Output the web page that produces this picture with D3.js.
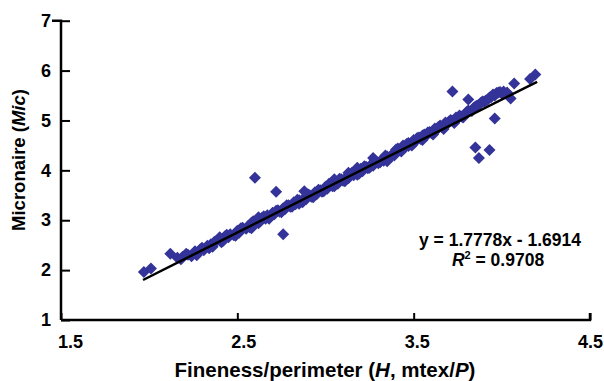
<!DOCTYPE html>
<html><head><meta charset="utf-8">
<script src="https://cdn.jsdelivr.net/npm/d3@7"></script>
<style>
html,body{margin:0;padding:0;background:#fff;}
svg{display:block;font-family:Arial,"Liberation Sans",sans-serif;}
</style></head>
<body><svg id="chart" width="604" height="381"></svg>
<script>
// Fineness/perimeter H (mtex/P)
const hValues = [
1.97,2.01,2.12,2.16,2.19,2.22,2.24,2.26,2.28,2.30,2.31,2.33,2.35,2.36,2.38,2.40,2.41,2.43,2.45,2.46,
2.48,2.50,2.51,2.53,2.55,2.56,2.58,2.60,2.61,2.63,2.64,2.66,2.67,2.69,2.70,2.71,2.73,2.74,2.76,2.77,
2.79,2.80,2.82,2.83,2.85,2.86,2.88,2.89,2.91,2.92,2.94,2.95,2.97,2.98,3.00,3.01,3.03,3.04,3.06,3.07,
3.09,3.10,3.12,3.13,3.14,3.16,3.17,3.19,3.20,3.21,3.23,3.24,3.26,3.27,3.29,3.30,3.32,3.33,3.35,3.36,
3.38,3.39,3.41,3.42,3.44,3.45,3.47,3.48,3.50,3.51,3.53,3.54,3.56,3.57,3.59,3.60,3.62,3.63,3.65,3.66,
3.68,3.69,3.71,3.72,3.74,3.75,3.77,3.79,3.80,3.84,3.86,3.88,3.90,3.92,3.94,3.95,3.97,3.99,4.01,4.03,
2.18,2.21,2.27,2.29,2.34,2.37,2.42,2.44,2.49,2.52,2.57,2.59,2.62,2.65,2.68,2.72,2.75,2.78,2.81,2.84,
2.87,2.90,2.93,2.96,2.99,3.02,3.05,3.08,3.11,3.15,3.18,3.22,3.25,3.28,3.31,3.34,3.37,3.40,3.43,3.46,
3.49,3.52,3.55,3.58,3.61,3.64,3.67,3.70,3.73,3.76,3.78,3.81,3.83,3.85,3.87,3.89,3.91,3.93,3.96,3.98,4.00,
2.40,2.58,2.85,3.05,3.13,3.27,3.35,3.55,2.62,3.18,3.47,
2.60,2.72,2.76,2.88,3.72,3.81,3.96,3.85,3.93,3.87,4.07,4.05,4.19,4.16
];
// Micronaire (Mic)
const micValues = [
1.96,2.03,2.33,2.25,2.27,2.31,2.28,2.38,2.37,2.45,2.40,2.49,2.52,2.47,2.58,2.60,2.56,2.68,2.66,2.72,
2.70,2.79,2.75,2.85,2.83,2.88,2.95,2.93,2.99,2.98,3.05,3.03,3.10,3.08,3.15,3.12,3.20,3.17,3.24,3.22,
3.30,3.27,3.36,3.32,3.40,3.37,3.45,3.42,3.50,3.47,3.56,3.52,3.60,3.57,3.67,3.63,3.72,3.68,3.77,3.73,
3.82,3.79,3.87,3.84,3.92,3.90,3.96,3.93,4.03,3.98,4.07,4.04,4.12,4.09,4.17,4.14,4.22,4.19,4.28,4.25,
4.33,4.30,4.44,4.41,4.50,4.46,4.55,4.52,4.61,4.58,4.66,4.63,4.72,4.69,4.77,4.75,4.84,4.81,4.90,4.87,
4.96,4.93,5.01,4.99,5.06,5.04,5.08,5.12,5.17,5.25,5.30,5.35,5.38,5.42,5.47,5.52,5.55,5.57,5.58,5.56,
2.22,2.33,2.30,2.42,2.44,2.57,2.59,2.71,2.69,2.84,2.86,2.98,2.94,3.08,3.03,3.19,3.16,3.30,3.27,3.41,
3.36,3.52,3.46,3.61,3.58,3.73,3.68,3.83,3.78,3.95,3.91,4.08,4.05,4.20,4.16,4.30,4.27,4.42,4.38,4.53,
4.50,4.65,4.61,4.76,4.72,4.87,4.83,4.98,4.95,5.10,5.06,5.20,5.19,5.28,5.31,5.38,5.40,5.46,5.50,5.56,5.54,
2.66,2.84,3.33,3.82,3.95,4.25,4.18,4.70,3.06,4.05,4.49,
3.85,3.57,2.72,3.58,5.58,5.42,5.04,4.46,4.41,4.25,5.74,5.44,5.92,5.83
];
const xTicks = [1.5, 2.5, 3.5, 4.5];
const yTicks = [1, 2, 3, 4, 5, 6, 7];
const slope = 1.7778, intercept = -1.6914;
const trendRange = [1.965, 4.20];
const equationText = "y = 1.7778x - 1.6914";
const r2Text = "0.9708";

const svg = d3.select("#chart");
const x = d3.scaleLinear().domain([1.5, 4.5]).range([61, 590]);
const y = d3.scaleLinear().domain([1, 7]).range([320, 20.7]);

// points
const pts = hValues.map((h, i) => ({h, m: micValues[i]}));
const diamond = d3.symbol().type(d3.symbolSquare).size(72);
svg.append("g").selectAll("path").data(pts).join("path")
  .attr("d", diamond)
  .attr("transform", d => `translate(${x(d.h)},${y(d.m)}) rotate(45)`)
  .attr("fill", "#333399");

// trendline
svg.append("line")
  .attr("x1", x(trendRange[0])).attr("y1", y(slope * trendRange[0] + intercept))
  .attr("x2", x(trendRange[1])).attr("y2", y(slope * trendRange[1] + intercept))
  .attr("stroke", "#000").attr("stroke-width", 2.5);

// axes
const xAxis = svg.append("g").attr("transform", "translate(0,320)")
  .call(d3.axisBottom(x).tickValues(xTicks).tickSize(-7).tickPadding(0).tickFormat(d3.format(".1f")));
xAxis.select(".domain").attr("d", `M${x(1.5)},0H${x(4.5)}V-7`).attr("stroke-width", 2.5);
xAxis.selectAll(".tick line").attr("stroke-width", 2);
xAxis.selectAll(".tick text")
  .attr("y", 28).attr("dy", 0)
  .attr("dx", d => 9 * (4.5 - d) / 3)
  .attr("font-size", 18).attr("font-weight", "bold").attr("fill", "#000")
  .attr("font-family", "Arial, 'Liberation Sans', sans-serif");

const yAxis = svg.append("g").attr("transform", "translate(61,0)")
  .call(d3.axisLeft(y).tickValues(yTicks).tickSize(-9).tickPadding(10).tickFormat(d3.format("d")));
yAxis.select(".domain").attr("d", `M-9,${y(7)}H0V${y(1)}`).attr("stroke-width", 2.5);
yAxis.selectAll(".tick line").attr("stroke-width", 2);
yAxis.selectAll(".tick text")
  .attr("font-size", 18).attr("font-weight", "bold").attr("fill", "#000")
  .attr("font-family", "Arial, 'Liberation Sans', sans-serif");

// axis titles
const xt = svg.append("text").attr("x", 325).attr("y", 377).attr("text-anchor", "middle")
  .attr("font-size", 20.5).attr("font-weight", "bold");
xt.append("tspan").text("Fineness/perimeter (");
xt.append("tspan").attr("font-style", "italic").text("H");
xt.append("tspan").text(", mtex/");
xt.append("tspan").attr("font-style", "italic").text("P");
xt.append("tspan").text(")");

const yt = svg.append("text").attr("transform", "translate(25,160) rotate(-90)").attr("text-anchor", "middle")
  .attr("font-size", 18.5).attr("font-weight", "bold");
yt.append("tspan").text("Micronaire (");
yt.append("tspan").attr("font-style", "italic").text("Mic");
yt.append("tspan").text(")");

// equation
svg.append("text").attr("x", 500).attr("y", 246).attr("text-anchor", "middle")
  .attr("font-size", 17.5).attr("font-weight", "bold").text(equationText);
const r2 = svg.append("text").attr("x", 498).attr("y", 266).attr("text-anchor", "middle")
  .attr("font-size", 17.5).attr("font-weight", "bold");
r2.append("tspan").attr("font-style", "italic").text("R");
r2.append("tspan").attr("font-size", 11).attr("dy", -7).text("2");
r2.append("tspan").attr("dy", 7).text(" = " + r2Text);
</script>
</body></html>
